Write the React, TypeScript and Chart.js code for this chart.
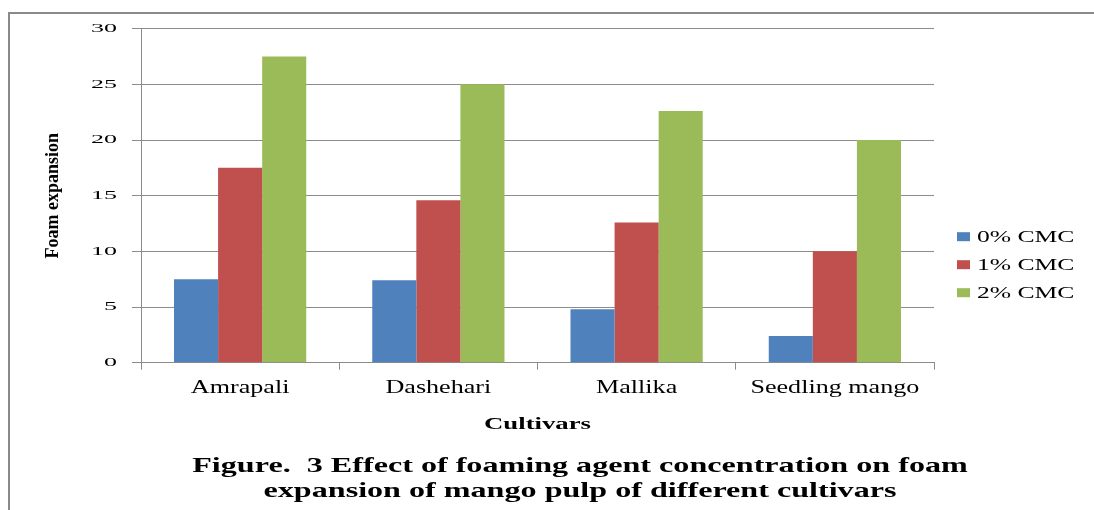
import { useEffect, useRef } from "react";
import { Chart, registerables } from "chart.js";

Chart.register(...registerables);

// ---- data ----
const categories = ["Amrapali", "Dashehari", "Mallika", "Seedling mango"];
const seriesLabels = ["0% CMC", "1% CMC", "2% CMC"];
const cmc0 = [7.5, 7.4, 4.8, 2.4];
const cmc1 = [17.5, 14.6, 12.6, 10.0];
const cmc2 = [27.5, 25.0, 22.6, 20.0];
const yTicks = [0, 5, 10, 15, 20, 25, 30];
const xAxisTitle = "Cultivars";
const yAxisTitle = "Foam expansion";
const captionLines = [
  "Figure.  3 Effect of foaming agent concentration on foam",
  "expansion of mango pulp of different cultivars",
];

// ---- styles ----
const seriesColors = ["#4F81BD", "#C0504D", "#9BBB59"];
const serif = "'Liberation Serif', 'Times New Roman', serif";
const gridGray = "#8c8c8c";

// horizontal stretch of the (wide-looking) original lettering, by font size
function stretchFor(font: string): number {
  const m = font.match(/([\d.]+)px/);
  const size = m ? parseFloat(m[1]) : 0;
  if (size <= 14) return 2.0; // tick numbers
  if (size < 17) return 1.62; // axis title
  return 1.45; // category labels
}

const stretchTextPlugin = {
  id: "stretchText",
  beforeInit(chart: any) {
    const ctx: any = chart.ctx;
    const orig = ctx.fillText.bind(ctx);
    ctx.__stretch = false;
    ctx.fillText = (text: string, x: number, y: number, maxWidth?: number) => {
      const t = ctx.getTransform();
      if (!ctx.__stretch || Math.abs(t.b) > 1e-6) {
        return maxWidth === undefined ? orig(text, x, y) : orig(text, x, y, maxWidth);
      }
      const sx = stretchFor(ctx.font);
      ctx.save();
      ctx.translate(x, y);
      ctx.scale(sx, 1);
      orig(text, 0, 0);
      ctx.restore();
    };
  },
  beforeDraw(chart: any) {
    chart.ctx.__stretch = true;
  },
  beforeDatasetsDraw(chart: any) {
    chart.ctx.__stretch = false;
  },
  afterDraw(chart: any) {
    chart.ctx.__stretch = false;
  },
};

const decorPlugin = {
  id: "decor",
  afterDraw(chart: any) {
    const ctx: CanvasRenderingContext2D = chart.ctx;
    const area = chart.chartArea;
    ctx.save();
    // outer frame (top + left edges visible)
    ctx.strokeStyle = "#8a8a8a";
    ctx.lineWidth = 2;
    ctx.beginPath();
    ctx.moveTo(9, chart.height);
    ctx.lineTo(9, 13);
    ctx.lineTo(chart.width, 13);
    ctx.stroke();

    // legend
    const datasets = chart.data.datasets;
    const lx = area.right + 23;
    const ly0 = area.top + 208;
    ctx.textBaseline = "middle";
    ctx.textAlign = "left";
    ctx.font = `16px ${serif}`;
    datasets.forEach((ds: any, i: number) => {
      const cy = ly0 + i * 28;
      ctx.fillStyle = ds.backgroundColor;
      ctx.fillRect(lx, cy - 4.5, 13, 9);
      ctx.fillStyle = "#000";
      ctx.save();
      ctx.translate(lx + 20, cy + 1);
      ctx.scale(1.6, 1);
      ctx.fillText(ds.label, 0, 0);
      ctx.restore();
    });

    // caption
    ctx.font = `bold 22px ${serif}`;
    ctx.textAlign = "center";
    ctx.fillStyle = "#000";
    const cx = 580;
    captionLines.forEach((line, i) => {
      ctx.save();
      ctx.translate(cx, 466 + i * 25);
      ctx.scale(1.46, 1);
      ctx.fillText(line, 0, 0);
      ctx.restore();
    });
    ctx.restore();
  },
};

export default function App() {
  const ref = useRef<HTMLCanvasElement>(null);

  useEffect(() => {
    const seriesData = [cmc0, cmc1, cmc2];
    const chart = new Chart(ref.current as HTMLCanvasElement, {
      type: "bar",
      data: {
        labels: categories,
        datasets: seriesLabels.map((label, i) => ({
          label,
          data: seriesData[i],
          backgroundColor: seriesColors[i],
          borderWidth: 0,
          categoryPercentage: 0.667,
          barPercentage: 1,
        })),
      },
      options: {
        animation: false,
        responsive: false,
        maintainAspectRatio: false,
        devicePixelRatio: 1,
        layout: { padding: { left: 0, right: 160, top: 28.7, bottom: 67.3 } },
        plugins: {
          legend: { display: false },
          tooltip: { enabled: false },
          title: { display: false },
        },
        scales: {
          x: {
            ticks: {
              padding: 8,
              color: "#000",
              font: { family: serif, size: 18 },
              maxRotation: 0,
              autoSkip: false,
            },
            grid: {
              drawOnChartArea: false,
              drawTicks: true,
              tickLength: 7,
              color: gridGray,
              offset: true,
            },
            border: { color: gridGray, width: 1 },
            title: {
              display: true,
              text: xAxisTitle,
              color: "#000",
              font: { family: serif, size: 16.5, weight: "bold" },
              padding: { top: 0, bottom: 8.5 },
            },
            afterFit: (s: any) => {
              s.height = 80;
            },
          },
          y: {
            min: yTicks[0],
            max: yTicks[yTicks.length - 1],
            afterBuildTicks: (s: any) => {
              s.ticks = yTicks.map((v) => ({ value: v }));
            },
            ticks: {
              padding: 15,
              color: "#000",
              font: { family: serif, size: 13 },
            },
            grid: { color: gridGray, lineWidth: 1, tickLength: 9, drawTicks: true },
            border: { color: gridGray, width: 1 },
            title: {
              display: true,
              text: yAxisTitle,
              color: "#000",
              font: { family: serif, size: 18, weight: "bold" },
              padding: { top: 43, bottom: 0 },
            },
            afterFit: (s: any) => {
              s.width = 141;
            },
          },
        },
      },
      plugins: [stretchTextPlugin, decorPlugin],
    });
    return () => chart.destroy();
  }, []);

  return (
    <div
      style={{
        position: "absolute",
        left: 0,
        top: 0,
        width: 1094,
        height: 510,
        background: "#fff",
      }}
    >
      <canvas
        ref={ref}
        width={1094}
        height={510}
        style={{ display: "block", width: 1094, height: 510 }}
      />
    </div>
  );
}
